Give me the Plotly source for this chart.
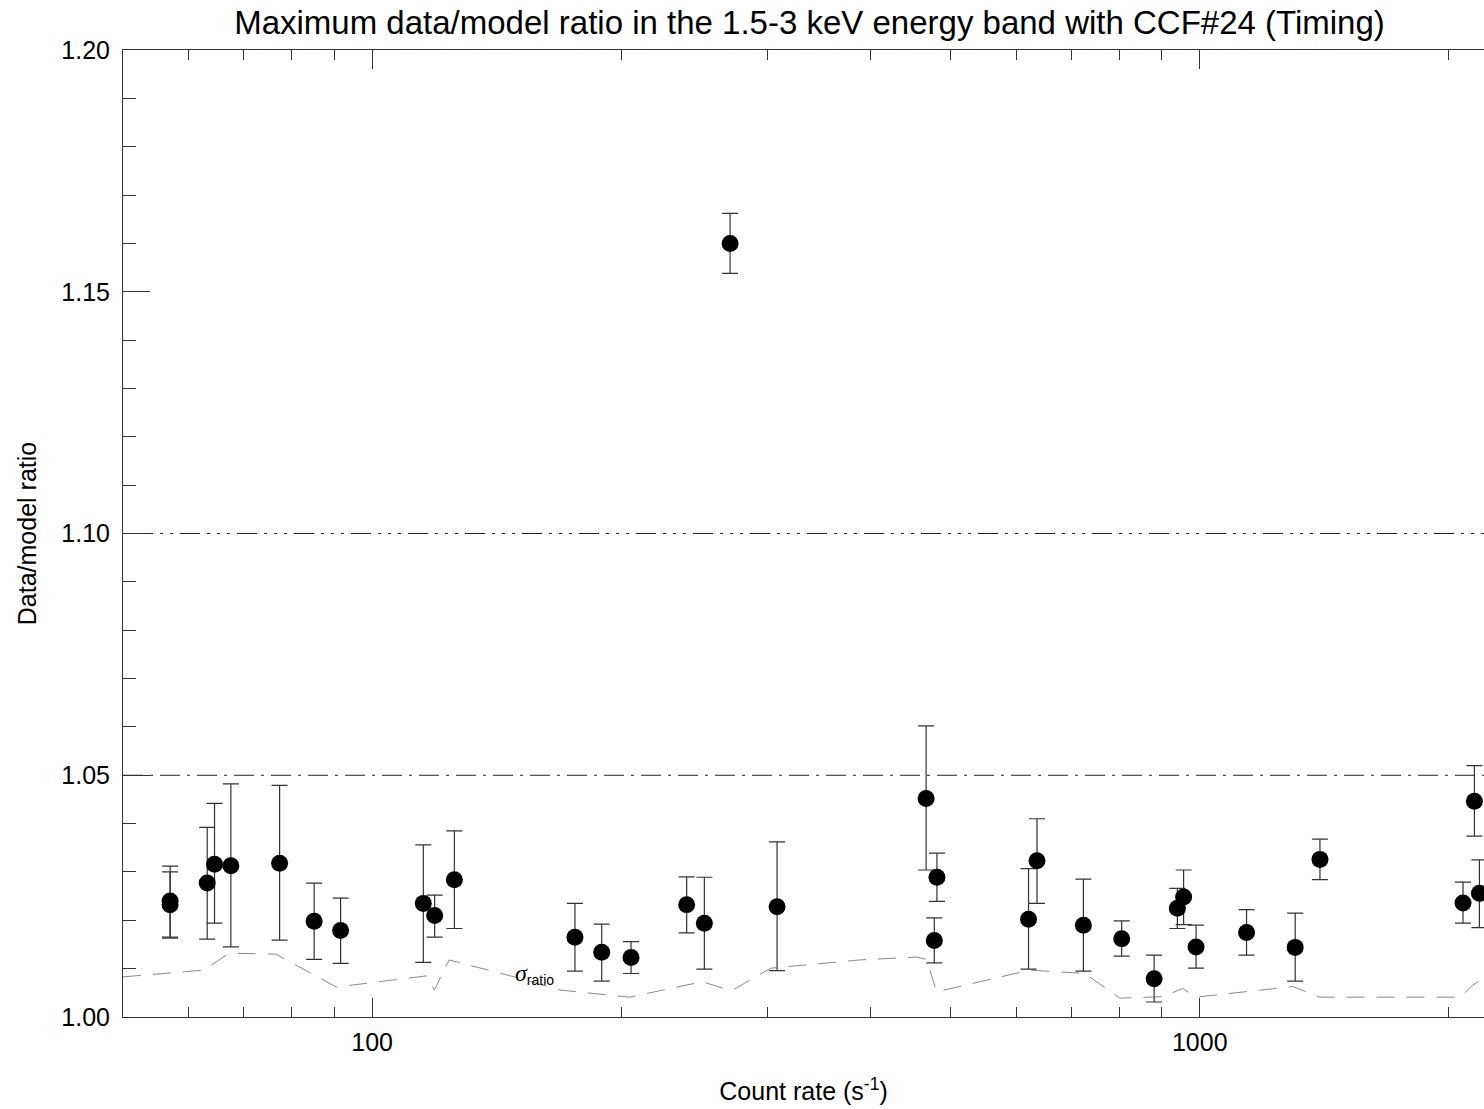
import numpy as np
import plotly.graph_objects as go

# ---------------- data ----------------
count_rate = [57.0, 57.0, 63.2, 64.5, 67.5, 77.3, 85.1, 91.6, 115.3, 119.0, 125.7,
              175.8, 189.4, 205.5, 239.9, 252.0, 270.7, 308.5, 467.0, 477.8, 481.3,
              621.0, 635.8, 723.4, 804.7, 880.7, 939.6, 956.0, 989.7, 1139.0, 1304.0,
              1397.0, 2080.0, 2147.0, 2177.0]
ratio = [1.0240, 1.0232, 1.0277, 1.0316, 1.0313, 1.0318, 1.0198, 1.0179, 1.0235, 1.0210, 1.0284,
         1.0165, 1.0134, 1.0123, 1.0232, 1.0194, 1.1600, 1.0228, 1.0452, 1.0158, 1.0289,
         1.0202, 1.0323, 1.0190, 1.0162, 1.0079, 1.0225, 1.0248, 1.0145, 1.0175, 1.0144,
         1.0326, 1.0236, 1.0446, 1.0256]
ratio_upper = [1.0312, 1.0300, 1.0392, 1.0442, 1.0482, 1.0479, 1.0277, 1.0246, 1.0356, 1.0252, 1.0385,
               1.0235, 1.0192, 1.0156, 1.0290, 1.0289, 1.1662, 1.0362, 1.0602, 1.0205, 1.0339,
               1.0307, 1.0410, 1.0285, 1.0199, 1.0128, 1.0266, 1.0304, 1.0190, 1.0222, 1.0215,
               1.0368, 1.0279, 1.0520, 1.0325]
ratio_lower = [1.0163, 1.0165, 1.0161, 1.0194, 1.0145, 1.0159, 1.0119, 1.0111, 1.0113, 1.0165, 1.0183,
               1.0095, 1.0074, 1.0090, 1.0174, 1.0099, 1.1538, 1.0096, 1.0304, 1.0112, 1.0239,
               1.0099, 1.0235, 1.0095, 1.0126, 1.0031, 1.0183, 1.0191, 1.0101, 1.0128, 1.0074,
               1.0284, 1.0194, 1.0374, 1.0185]

sigma_rate = [50.0, 62.6, 67.2, 76.5, 90.5, 116.2, 118.9, 123.9, 148.5, 168.3, 204.6, 250.6,
              271.5, 303.3, 388.0, 454.8, 467.7, 480.9, 622.8, 726.1, 800.6, 902.3, 953.7,
              989.0, 1295.6, 1397.0, 2062.0, 2138.0, 2205.0]
sigma_ratio = [1.0083, 1.0097, 1.0132, 1.0130, 1.0062, 1.0085, 1.0056, 1.0118, 1.0083, 1.0056,
               1.0041, 1.0073, 1.0054, 1.0101, 1.0118, 1.0124, 1.0119, 1.0052, 1.0097, 1.0090,
               1.0039, 1.0042, 1.0059, 1.0041, 1.0063, 1.0041, 1.0041, 1.0066, 1.0081]

threshold_levels = [1.05, 1.10]
y_ticks = [1.00, 1.05, 1.10, 1.15, 1.20]
x_ticks = [100, 1000]
x_minor = [60, 70, 80, 90, 200, 300, 400, 500, 600, 700, 800, 900, 2000]

x_range = [50, 2205]
y_range = [1.00, 1.20]

# ---------------- figure ----------------
r = np.array(ratio)
err_plus = np.array(ratio_upper) - r
err_minus = r - np.array(ratio_lower)

fig = go.Figure()

fig.add_trace(go.Scatter(
    x=sigma_rate, y=sigma_ratio, mode="lines",
    line=dict(color="#8a8a8a", width=1, dash="18px,12px"),
    hoverinfo="skip", showlegend=False))

dashes = ["20px,7px,3px,7px", "20px,7px,3px,7px,3px,7px,3px,7px"]
for lvl, d in zip(threshold_levels, dashes):
    fig.add_trace(go.Scatter(
        x=x_range, y=[lvl, lvl], mode="lines",
        line=dict(color="#222222", width=1.2, dash=d),
        hoverinfo="skip", showlegend=False))

fig.add_trace(go.Scatter(
    x=count_rate, y=ratio, mode="markers",
    marker=dict(color="black", size=17, line=dict(width=0)),
    error_y=dict(type="data", symmetric=False, array=err_plus, arrayminus=err_minus,
                 color="#333333", thickness=1.2, width=8),
    showlegend=False))

font_family = "Liberation Sans, Arial, Helvetica, sans-serif"

fig.add_annotation(
    x=np.log10(157), y=1.0088, xref="x", yref="y",
    text="<span style='font-family:Liberation Serif, serif;font-size:24px'><i>σ</i></span>"
         "<sub>ratio</sub>",
    showarrow=False,
    font=dict(family=font_family, size=20, color="black"))

fig.update_layout(
    width=1484, height=1109,
    margin=dict(l=123, r=0, t=50, b=92),
    paper_bgcolor="white", plot_bgcolor="white",
    font=dict(family=font_family, color="black", size=25),
    title=dict(text="Maximum data/model ratio in the 1.5-3 keV energy band with CCF#24 (Timing)",
               x=(123 + 1496) / 2 / 1484, xanchor="center",
               y=1 - 22 / 1109, yanchor="middle", yref="container",
               font=dict(size=33, family=font_family, color="black")),
)

fig.update_xaxes(
    type="log", range=[np.log10(x_range[0]), np.log10(x_range[1])],
    tickmode="array", tickvals=x_ticks, ticktext=[str(v) for v in x_ticks],
    ticks="inside", ticklen=19, tickwidth=1, tickcolor="#333333",
    ticklabelstandoff=3,
    minor=dict(tickmode="array", tickvals=x_minor, ticks="inside", ticklen=10,
               tickwidth=1, tickcolor="#333333", showgrid=False),
    showline=True, linecolor="#333333", linewidth=1, mirror="ticks",
    showgrid=False, zeroline=False,
    tickfont=dict(size=25),
    title=dict(text="Count rate (s<sup>-1</sup>)", font=dict(size=25), standoff=27),
)

fig.update_yaxes(
    range=y_range,
    tickmode="array", tickvals=y_ticks, ticktext=[f"{v:.2f}" for v in y_ticks],
    ticks="inside", ticklen=27, tickwidth=1, tickcolor="#333333",
    ticklabelstandoff=7,
    minor=dict(dtick=0.01, tick0=1.0, ticks="inside", ticklen=13,
               tickwidth=1, tickcolor="#333333", showgrid=False),
    showline=True, linecolor="#333333", linewidth=1, mirror=False,
    showgrid=False, zeroline=False,
    tickfont=dict(size=25),
    title=dict(text="Data/model ratio", font=dict(size=25), standoff=17),
)

fig.write_html("out.html")
